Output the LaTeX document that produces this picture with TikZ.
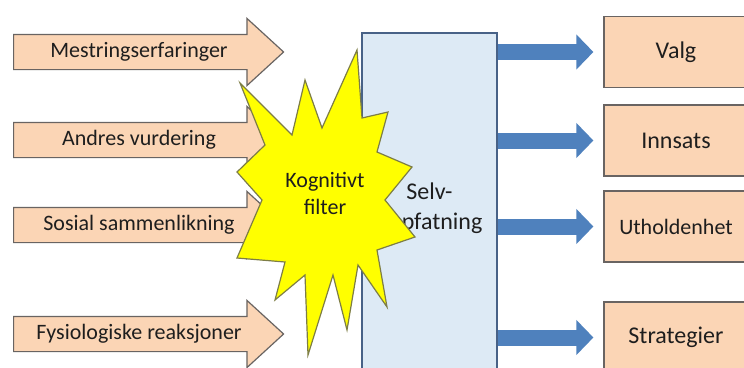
\documentclass[tikz,border=0pt]{standalone}
\usepackage{fontspec}
\setmainfont{Carlito}
\usetikzlibrary{shapes.arrows,arrows.meta,positioning}
\definecolor{peach}{RGB}{251,213,181}
\definecolor{peachline}{RGB}{105,100,98}
\definecolor{selvfill}{RGB}{221,234,245}
\definecolor{selvline}{RGB}{72,98,135}
\definecolor{pil}{RGB}{79,129,189}
\definecolor{gul}{RGB}{255,255,0}
\definecolor{gulkant}{RGB}{125,125,70}
\definecolor{tekst}{RGB}{30,30,30}
\tikzset{
  inn/.style={single arrow,draw=peachline,fill=peach,line width=1.2pt,anchor=tail,
    single arrow head extend=16pt,single arrow tip angle=85,minimum height=270pt,
    text height=15pt,text depth=5pt,inner ysep=7pt,inner xsep=0pt,text=tekst,
    font=\fontsize{22}{26}\selectfont},
  utfall/.style={draw=peachline,fill=peach,line width=1.2pt,minimum width=144pt,
    minimum height=71pt,text=tekst,font=\fontsize{24}{28}\selectfont},
  selv/.style={draw=selvline,fill=selvfill,line width=1.2pt,minimum width=135pt,
    minimum height=350pt,align=center,text=tekst,font=\fontsize{24}{30}\selectfont},
  ut/.style={pil,line width=16pt,-{Triangle[length=17pt,width=34pt]}},
  stjerne/.style={draw=gulkant,fill=gul,line width=1.2pt,line join=miter}
}

\begin{document}
\begin{tikzpicture}[x=1pt,y=-1pt]
\useasboundingbox (0,0) rectangle (744,367);
\clip (0,0) rectangle (744,367);
% kilder
\foreach \n/\y/\t in {mestring/52/Mestringserfaringer,andres/140/Andres vurdering,sosial/225/Sosial sammenlikning,fysio/334/Fysiologiske reaksjoner}
  \node[inn] (\n) at (13,\y) {\t};
% selvoppfatning
\node[selv] (selv) at (429.5,208) {Selv-\\oppfatning};
% utfall
\foreach \n/\y/\t in {valg/52/Valg,innsats/140.5/Innsats,utholdenhet/226.5/{\fontsize{22}{26}\selectfont Utholdenhet},strategier/337.5/Strategier}
  \node[utfall] (\n) at (676,\y) {\t};
\foreach \u in {valg,innsats,utholdenhet,strategier}
  \draw[ut] (selv.east |- \u.west) -- ([xshift=-10pt]\u.west);
% filter
\draw[stjerne] (240,83) -- (292,135) -- (305,80) -- (322,128) -- (357,50) -- (362,118)
  -- (388,112) -- (377,152) -- (412,167) -- (385,200) -- (415,237) -- (377,250)
  -- (387,307) -- (358,265) -- (347,330) -- (333,275) -- (308,355) -- (305,275)
  -- (275,300) -- (285,262) -- (237,258) -- (262,200) -- (237,172) -- (265,145) -- cycle;
\node[align=center,text=tekst,font=\fontsize{22}{27}\selectfont] (filter) at (325,193) {Kognitivt\\filter};
\end{tikzpicture}
\end{document}
